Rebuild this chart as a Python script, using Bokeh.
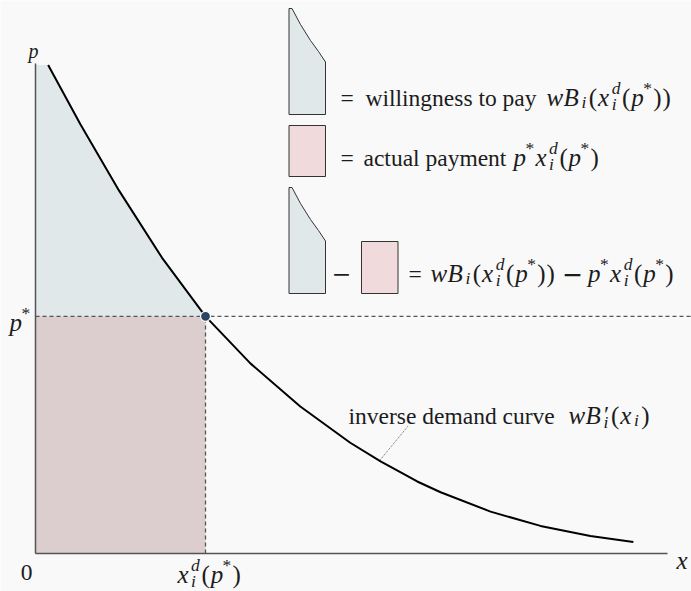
from bokeh.plotting import figure
from bokeh.models import Range1d, Label
from bokeh.embed import file_html
from bokeh.resources import INLINE

# ---------------- data (chart units) ----------------
curve_x = [0.20, 0.71, 1.32, 2.00, 2.69, 3.40, 4.19, 4.98, 5.46, 6.04, 6.41, 7.20, 7.99, 8.78, 9.46]
curve_p = [9.97, 8.76, 7.41, 6.04, 4.84, 3.88, 3.00, 2.26, 1.88, 1.47, 1.25, 0.855, 0.563, 0.358, 0.236]
x_star = 2.69
p_star = 4.84
axis_x_max = 10.0
axis_p_max = 10.0
n_star = 5  # number of curve points up to the equilibrium

# ---------------- layout helpers ----------------
W, H = 691, 591
RW, RH = 691, 591
S = W / RW
PX_X = 63.2   # reference pixels per x unit
PX_Y = 49.0   # reference pixels per p unit
OX, OY = 35, 553


def X(rx):
    return (rx - OX) / PX_X


def Y(ry):
    return (OY - ry) / PX_Y


BG = "#f9f9f9"
INK = "#1c1c1c"
ROMAN = "Liberation Serif, DejaVu Serif, serif"
MATHF = "Liberation Serif, DejaVu Serif, serif"
BLUE = "#e1e8ea"
PINK_AREA = "#dccdcf"
PINK_LEG = "#f1dadb"

p = figure(width=W, height=H, x_range=Range1d(X(0), X(RW)), y_range=Range1d(Y(RH), Y(0)),
           output_backend="svg", toolbar_location=None, x_axis_type=None, y_axis_type=None,
           min_border=0, background_fill_color=BG, border_fill_color=BG, outline_line_color=None)
p.xgrid.visible = False
p.ygrid.visible = False

# areas
p.patch([0] + curve_x[:n_star] + [0], [curve_p[0]] + curve_p[:n_star] + [p_star],
        fill_color=BLUE, line_color=None)
p.quad(left=[0], right=[x_star], bottom=[0], top=[p_star], fill_color=PINK_AREA, line_color=None)

# axes
p.line([0, 0], [0, axis_p_max], line_color="#555555", line_width=1.5)
p.line([0, axis_x_max], [0, 0], line_color="#555555", line_width=1.5)

# dashed guides
p.line([0, X(RW)], [p_star, p_star], line_color="#555555", line_width=1.3, line_dash="4 3")
p.line([x_star, x_star], [0, p_star], line_color="#555555", line_width=1.3, line_dash="4 3")

# demand curve
p.line(curve_x, curve_p, line_color="#000000", line_width=2, line_join="round")

# equilibrium point
p.scatter([x_star], [p_star], size=10, fill_color="#2d4562", line_color="white", line_width=1.2)

# annotation leader
p.line([X(380), X(408)], [Y(459), Y(425)], line_color="#666666", line_width=1, line_dash="1 1")


# legend icons
def shape_blue(top):
    xs = [288.5, 291.5, 300, 310, 318, 325, 325, 288.5]
    ys = [0, 0, 16, 32, 43, 53.5, 106, 106]
    p.patch([X(v) for v in xs], [Y(top + v) for v in ys], fill_color=BLUE,
            line_color="#333333", line_width=1)


def rect_pink(l, t, r, b):
    p.patch([X(l), X(r), X(r), X(l)], [Y(t), Y(t), Y(b), Y(b)], fill_color=PINK_LEG,
            line_color="#333333", line_width=1)


shape_blue(8)
rect_pink(288.5, 125, 325, 176)
shape_blue(187)
rect_pink(361, 241, 397.5, 293)


# text helpers
def txt(rx, ry, s, size, italic=False, font=ROMAN, align="left"):
    p.add_layout(Label(x=X(rx), y=Y(ry), text=s, text_font=font, text_font_size=f"{size * S:.1f}px",
                       text_font_style="italic" if italic else "normal", text_color=INK,
                       text_align=align, text_baseline="alphabetic"))


CMW = {'w': .716, 'B': .759, 'x': .572, 'p': .503, 'i': .345, 'd': .52, '*': .5,
       '(': .389, ')': .389, '=': .778, '−': .778, '′': .30}


def math(rx, ry, tokens, size):
    cur = rx
    ss = 0.7 * size
    for t, role in tokens:
        if role == 'n':
            txt(cur, ry, t, size, italic=True, font=MATHF)
            cur += CMW[t] * size * 0.95
        elif role == 'r':
            txt(cur, ry, t, size, font=ROMAN)
            cur += CMW[t] * size * 0.95
        elif role == 'bin':
            cur += 0.26 * size
            txt(cur, ry, t, size, font="DejaVu Sans")
            cur += CMW[t] * size + 0.26 * size
        elif role == 'sup':
            txt(cur, ry - 0.40 * size, t, ss, font=ROMAN)
            cur += CMW[t] * ss + 0.05 * size
        elif role == 'sub':
            txt(cur, ry + 0.18 * size, t, ss, italic=True, font=MATHF)
            cur += CMW[t] * ss + 0.05 * size
        elif role == 'ss':
            sb, sp = t
            txt(cur, ry - 0.40 * size, sp, ss, italic=True, font=MATHF)
            txt(cur, ry + 0.24 * size, sb, ss, italic=True, font=MATHF)
            cur += max(CMW[sb], CMW[sp]) * ss + 0.05 * size
        elif role == 'ssp':
            sb, sp = t
            txt(cur + 0.02 * size, ry - 0.08 * size, sp, size * 0.95, font=ROMAN)
            txt(cur, ry + 0.24 * size, sb, ss, italic=True, font=MATHF)
            cur += max(CMW[sb], CMW[sp]) * ss + 0.06 * size
    return cur


WB = [('w', 'n'), ('B', 'n'), ('i', 'sub'), ('(', 'r'), ('x', 'n'), (('i', 'd'), 'ss'),
      ('(', 'r'), ('p', 'n'), ('*', 'sup'), (')', 'r'), (')', 'r')]
PX = [('p', 'n'), ('*', 'sup'), ('x', 'n'), (('i', 'd'), 'ss'), ('(', 'r'), ('p', 'n'),
      ('*', 'sup'), (')', 'r')]
MS = 25
RS = 23.5

# legend 1
txt(340, 97, "=", RS)
txt(365, 97, "willingness to pay", RS)
math(546, 97, WB, MS)
# legend 2
txt(340, 157, "=", RS)
txt(363, 157, "actual payment", RS)
math(513, 157, PX, MS)
# legend 3
txt(341, 273, "−", RS, font="DejaVu Sans", align="center")
txt(408, 273, "=", RS)
math(430, 273, WB + [('−', 'bin')] + PX, MS)

# curve label
txt(348, 415, "inverse demand curve", RS)
math(568, 415, [('w', 'n'), ('B', 'n'), (('i', '′'), 'ssp'), ('(', 'r'), ('x', 'n'),
                ('i', 'sub'), (')', 'r')], MS)

# axis labels
math(28, 50, [('p', 'n')], 20)
math(9, 322, [('p', 'n'), ('*', 'sup')], MS)
txt(26, 572, "0", RS, align="center")
math(177, 574, [('x', 'n'), (('i', 'd'), 'ss'), ('(', 'r'), ('p', 'n'), ('*', 'sup'), (')', 'r')], MS)
math(676, 560, [('x', 'n')], MS)

open("out.html", "w").write(file_html(p, INLINE))
